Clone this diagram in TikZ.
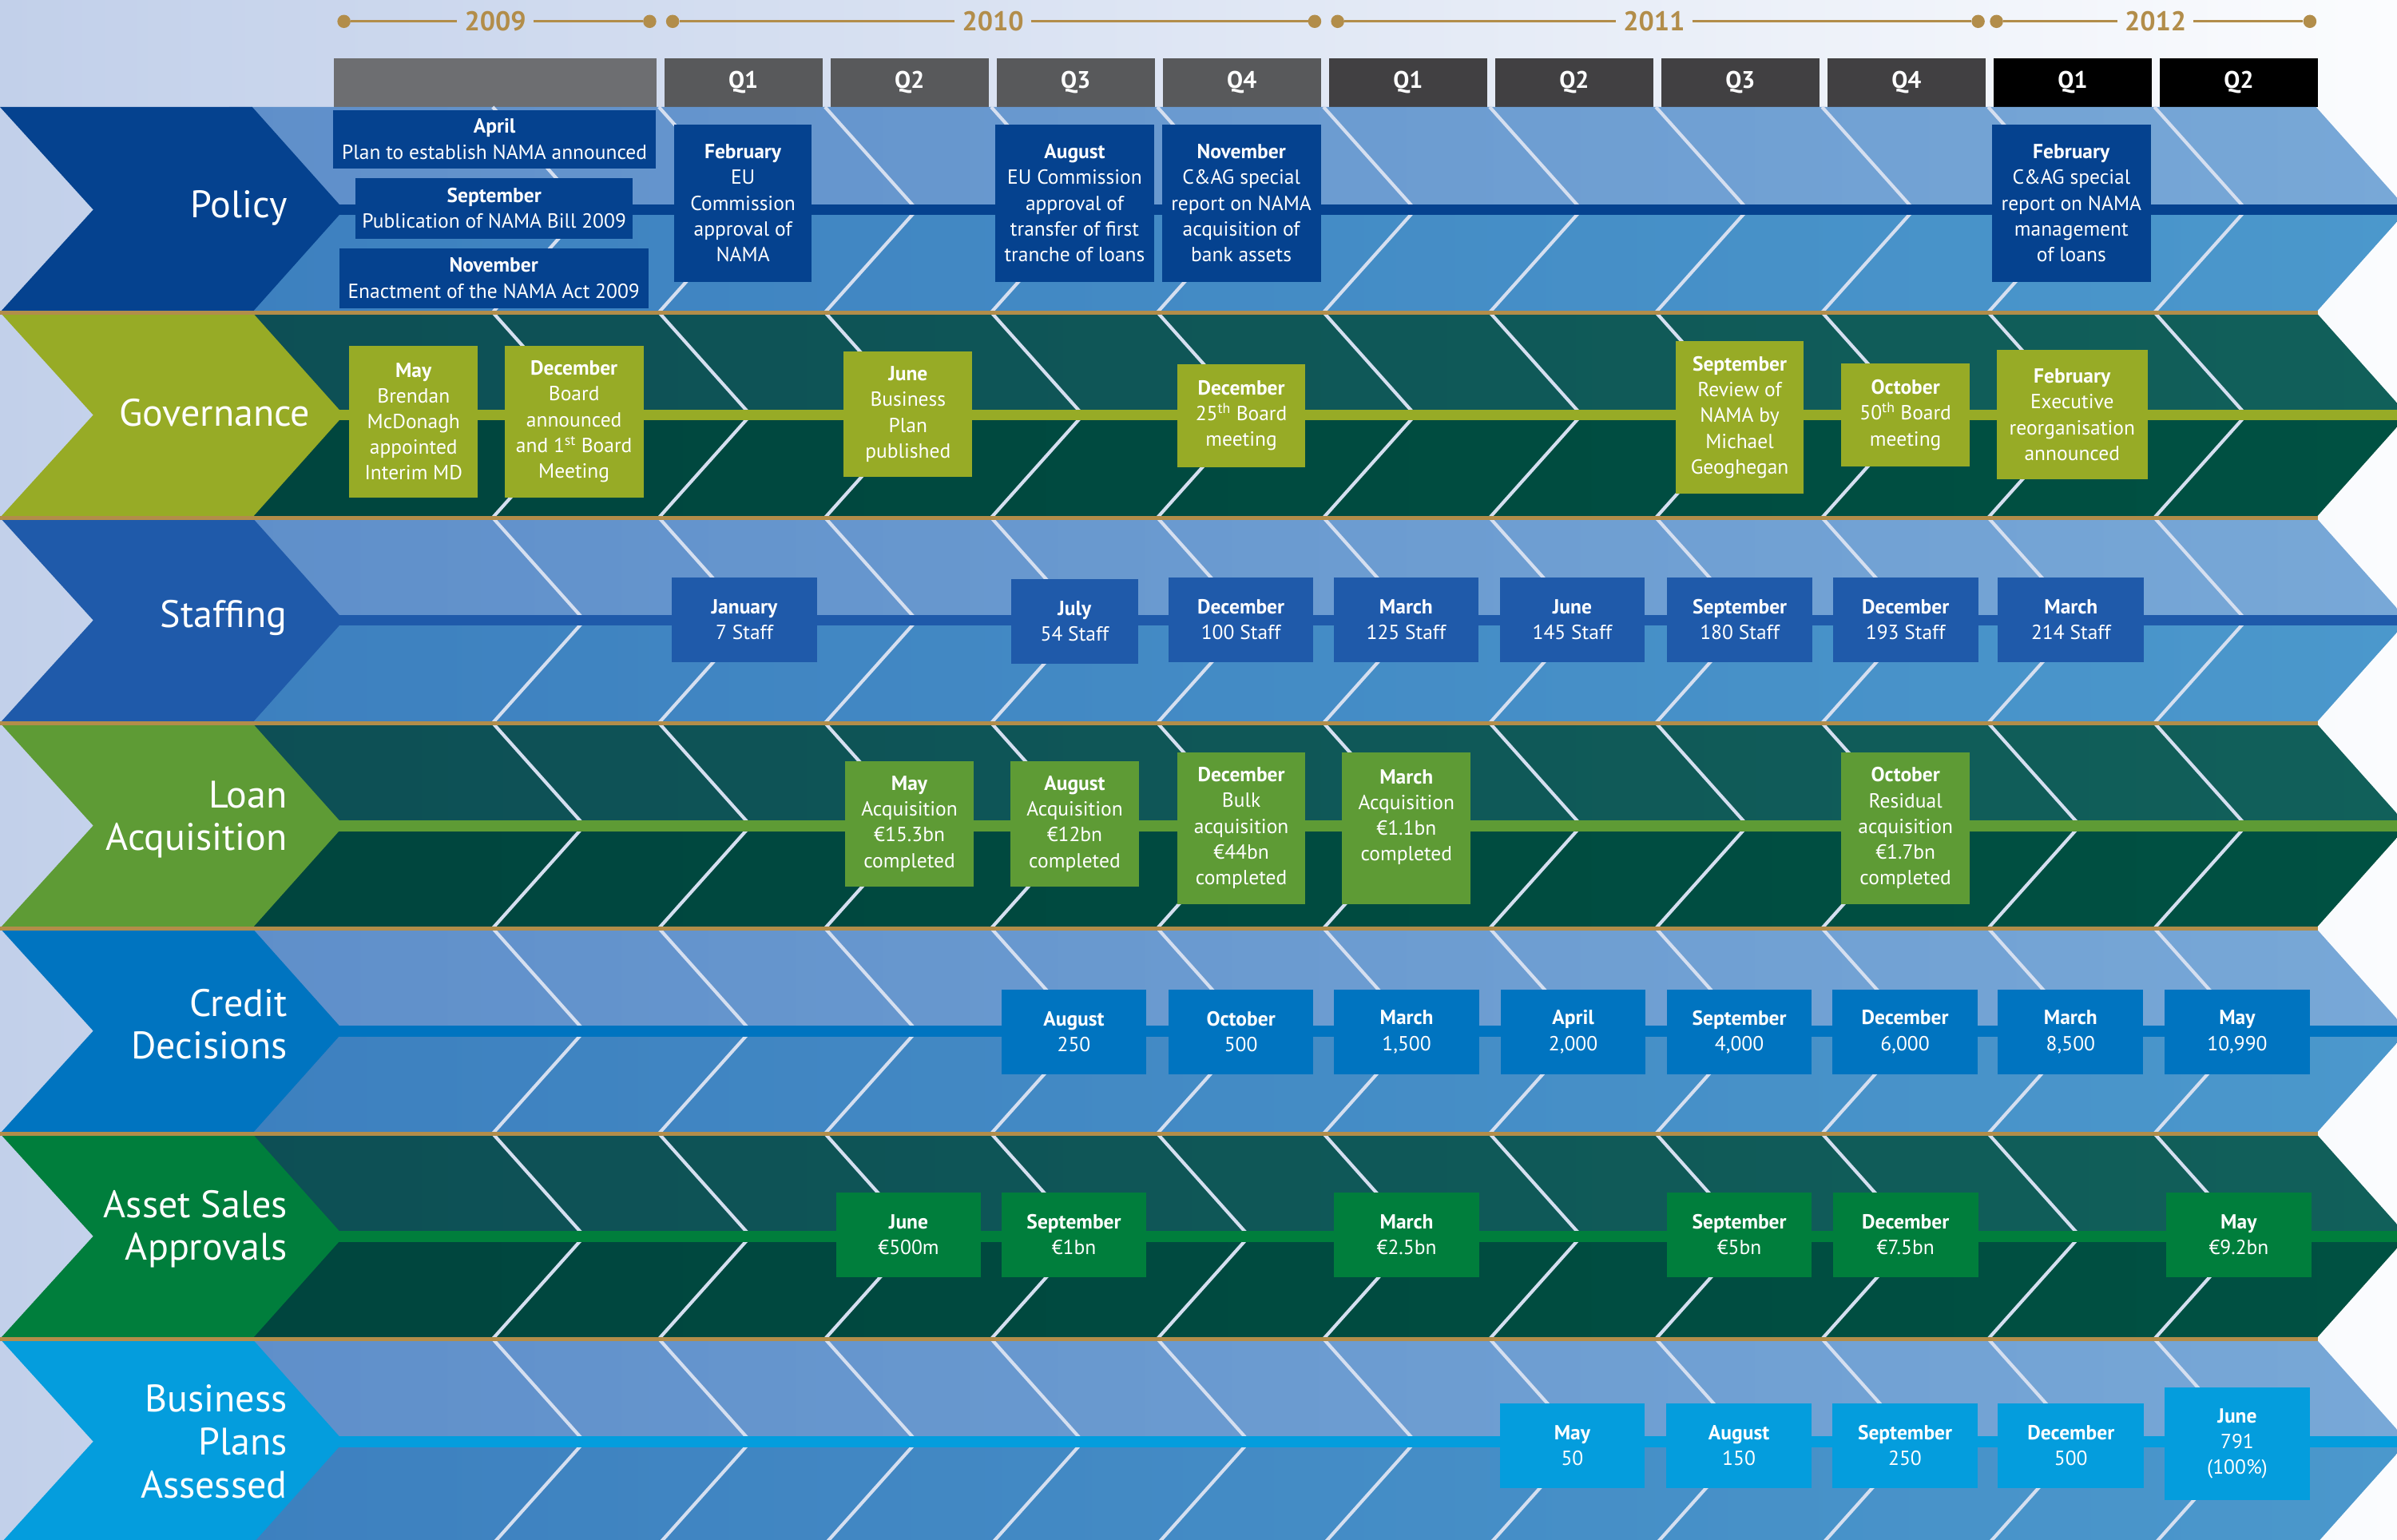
\documentclass[tikz,border=0pt]{standalone}
\usepackage{fontspec}
\setmainfont{PT Sans}
\definecolor{bgL}{HTML}{C2D0EA}
\definecolor{bgR}{HTML}{FBFCFE}
\definecolor{gold}{HTML}{B28D4A}
\definecolor{divc}{HTML}{D5DFF0}
\definecolor{upBL}{HTML}{5F8FCA}
\definecolor{upBR}{HTML}{78A8D7}
\definecolor{loBL}{HTML}{3D80BF}
\definecolor{loBR}{HTML}{4B98CC}
\definecolor{upGL}{HTML}{0D4F55}
\definecolor{upGR}{HTML}{11605A}
\definecolor{loGL}{HTML}{00453E}
\definecolor{loGR}{HTML}{005142}
\definecolor{cPol}{HTML}{05428F}
\definecolor{cGov}{HTML}{97AB26}
\definecolor{cSta}{HTML}{1F5AAA}
\definecolor{cLoa}{HTML}{5E9B35}
\definecolor{cCre}{HTML}{0074C0}
\definecolor{cAss}{HTML}{007E3C}
\definecolor{cBus}{HTML}{049DDD}
\definecolor{q09}{HTML}{6D6E71}
\definecolor{q10}{HTML}{58595B}
\definecolor{q11}{HTML}{414042}
\definecolor{q12}{HTML}{000000}
\tikzset{
  evbox/.style={inner sep=0pt, text=white, align=center, font=\fontsize{25.5}{32.2}\selectfont},
  qbox/.style={inner sep=0pt, text=white, font=\bfseries\fontsize{30}{31}\selectfont, minimum height=61.2pt, minimum width=198pt},
  yeartxt/.style={inner sep=9pt, text=gold, font=\bfseries\fontsize{34}{35}\selectfont},
  ydot/.style={circle, fill=gold, inner sep=0pt, minimum size=16.5pt},
  yline/.style={draw=gold, line width=3.3pt},
  divline/.style={draw=divc, line width=4.2pt},
  rowlab/.style={inner sep=0pt, text=white, align=right, anchor=east, font=\fontsize{48}{53.6}\selectfont},
}
\newcommand\myev[7]{\node[evbox, fill=#6, minimum width={(#4-#2)*1.9139pt}, minimum height={(#5-#3)*1.9139pt}] (#1) at ({(#2+#4)/2},{(#3+#5)/2}) {#7};}
\begin{document}
\begin{tikzpicture}[x=1.9139pt, y=-1.9139pt]
\useasboundingbox (0,0) rectangle (1568,1007);
\clip (0,0) rectangle (1568,1007);
\shade[left color=bgL, right color=bgR] (0,0) rectangle (1568,1007);

% quarter headers
\node[qbox, fill=q09, minimum width=403.8pt] (h0) at (323.75,54) {};
\node[qbox, fill=q10] (h1) at (486.25,54) {Q1};
\node[qbox, fill=q10] (h2) at (595,54) {Q2};
\node[qbox, fill=q10] (h3) at (703.65,54) {Q3};
\node[qbox, fill=q10] (h4) at (812.35,54) {Q4};
\node[qbox, fill=q11] (h5) at (921.05,54) {Q1};
\node[qbox, fill=q11] (h6) at (1029.75,54) {Q2};
\node[qbox, fill=q11] (h7) at (1138.45,54) {Q3};
\node[qbox, fill=q11] (h8) at (1247.15,54) {Q4};
\node[qbox, fill=q12] (h9) at (1355.85,54) {Q1};
\node[qbox, fill=q12] (h10) at (1464.55,54) {Q2};

% year line
\node[ydot] (d1) at (225,14) {};
\node[ydot] (d2) at (425,14) {};
\node[ydot] (d3) at (440,14) {};
\node[ydot] (d4) at (860,14) {};
\node[ydot] (d5) at (875,14) {};
\node[ydot] (d6) at (1294,14) {};
\node[ydot] (d7) at (1306,14) {};
\node[ydot] (d8) at (1511,14) {};
\node[yeartxt] (y1) at (324,14) {2009};
\node[yeartxt] (y2) at (649.5,14) {2010};
\node[yeartxt] (y3) at (1082,14) {2011};
\node[yeartxt] (y4) at (1410,14) {2012};
\draw[yline] (d1) -- (y1); \draw[yline] (y1) -- (d2);
\draw[yline] (d3) -- (y2); \draw[yline] (y2) -- (d4);
\draw[yline] (d5) -- (y3); \draw[yline] (y3) -- (d6);
\draw[yline] (d7) -- (y4); \draw[yline] (y4) -- (d8);

% rows
\foreach \i/\lc/\kind in {0/cPol/B,1/cGov/G,2/cSta/B,3/cLoa/G,4/cCre/B,5/cAss/G,6/cBus/B}{
  \pgfmathsetmacro\rt{70+134.3*\i}
  \pgfmathsetmacro\rc{\rt+67.15}
  \pgfmathsetmacro\rb{\rt+134.3}
  \shade[left color=up\kind L, right color=up\kind R] (150,\rt) -- (1515,\rt) -- (1575,\rc) -- (150,\rc) -- cycle;
  \shade[left color=lo\kind L, right color=lo\kind R] (150,\rc) -- (1575,\rc) -- (1515,\rb) -- (150,\rb) -- cycle;
  \foreach \k in {0,...,10}{
    \pgfmathsetmacro\xx{322.3+108.7*\k}
    \draw[divline] (\xx,\rt) -- ({\xx+60},\rc) -- (\xx,\rb);
  }
  \fill[\lc] (200,{\rc-3.6}) rectangle (1575,{\rc+3.6});
  \fill[\lc] (0,\rt) -- (165,\rt) -- (225,\rc) -- (165,\rb) -- (0,\rb) -- (61,\rc) -- cycle;
}
\foreach \i in {1,...,6}{
  \pgfmathsetmacro\gy{70+134.3*\i}
  \fill[gold] (0,{\gy-1.3}) rectangle (1516,{\gy+1.3});
}

% row labels
\node[rowlab] (lPol) at (188,136) {Policy};
\node[rowlab] (lGov) at (203,270) {Governance};
\node[rowlab] (lSta) at (188,404) {Staffing};
\node[rowlab] (lLoa) at (188,536) {Loan\\Acquisition};
\node[rowlab] (lCre) at (188,670) {Credit\\Decisions};
\node[rowlab] (lAss) at (188,804) {Asset Sales\\Approvals};
\node[rowlab] (lBus) at (188,943) {Business\\Plans\\Assessed};

% policy
\myev{p1}{218}{72}{429}{110}{cPol}{\textbf{April}\\Plan to establish NAMA announced}
\myev{p2}{232.5}{116.3}{414}{156.2}{cPol}{\textbf{September}\\Publication of NAMA Bill 2009}
\myev{p3}{222}{162.3}{424}{201.6}{cPol}{\textbf{November}\\Enactment of the NAMA Act 2009}
\myev{p4}{441}{81.5}{531}{184.3}{cPol}{\textbf{February}\\EU\\Commission\\approval of\\NAMA}
\myev{p5}{651}{81.5}{755}{184.3}{cPol}{\textbf{August}\\EU Commission\\approval of\\transfer of first\\tranche of loans}
\myev{p6}{760}{81.5}{864}{184.3}{cPol}{\textbf{November}\\C\&AG special\\report on NAMA\\acquisition of\\bank assets}
\myev{p7}{1303}{81.5}{1407}{184.3}{cPol}{\textbf{February}\\C\&AG special\\report on NAMA\\management\\of loans}

% governance
\myev{g1}{228.5}{226}{312.6}{325.4}{cGov}{\textbf{May}\\Brendan\\McDonagh\\appointed\\Interim MD}
\myev{g2}{330}{226}{421}{325.4}{cGov}{\textbf{December}\\Board\\announced\\and 1\textsuperscript{st} Board\\Meeting}
\myev{g3}{552}{230}{636}{312}{cGov}{\textbf{June}\\Business\\Plan\\published}
\myev{g4}{770}{238}{854}{305.6}{cGov}{\textbf{December}\\25\textsuperscript{th} Board\\meeting}
\myev{g5}{1096}{223}{1180}{323}{cGov}{\textbf{September}\\Review of\\NAMA by\\Michael\\Geoghegan}
\myev{g6}{1204.5}{237.8}{1288.5}{305}{cGov}{\textbf{October}\\50\textsuperscript{th} Board\\meeting}
\myev{g7}{1306}{229}{1405}{313.5}{cGov}{\textbf{February}\\Executive\\reorganisation\\announced}

% staffing
\myev{s1}{439.5}{377.8}{534.5}{433}{cSta}{\textbf{January}\\7 Staff}
\myev{s2}{661.5}{378.8}{744.5}{434}{cSta}{\textbf{July}\\54 Staff}
\myev{s3}{764.5}{377.8}{859}{433}{cSta}{\textbf{December}\\100 Staff}
\myev{s4}{872.6}{377.8}{967}{433}{cSta}{\textbf{March}\\125 Staff}
\myev{s5}{981}{377.8}{1076}{433}{cSta}{\textbf{June}\\145 Staff}
\myev{s6}{1090.5}{377.8}{1185.6}{433}{cSta}{\textbf{September}\\180 Staff}
\myev{s7}{1199}{377.8}{1294}{433}{cSta}{\textbf{December}\\193 Staff}
\myev{s8}{1307}{377.8}{1402.5}{433}{cSta}{\textbf{March}\\214 Staff}

% loan acquisition
\myev{l1}{552.8}{498}{637}{579.8}{cLoa}{\textbf{May}\\Acquisition\\€15.3bn\\completed}
\myev{l2}{661}{498}{745}{579.8}{cLoa}{\textbf{August}\\Acquisition\\€12bn\\completed}
\myev{l3}{770}{492}{854}{591.3}{cLoa}{\textbf{December}\\Bulk\\acquisition\\€44bn\\completed}
\myev{l4}{878}{492}{962}{591.3}{cLoa}{\textbf{March}\\Acquisition\\€1.1bn\\completed\\\mbox{}}
\myev{l5}{1204.5}{492}{1288.5}{591.3}{cLoa}{\textbf{October}\\Residual\\acquisition\\€1.7bn\\completed}

% credit decisions
\myev{c1}{655}{647.4}{750}{702.6}{cCre}{\textbf{August}\\250}
\myev{c2}{764.5}{647.4}{859}{702.6}{cCre}{\textbf{October}\\500}
\myev{c3}{872.6}{647.4}{967.7}{702.6}{cCre}{\textbf{March}\\1,500}
\myev{c4}{981.8}{647.4}{1076.4}{702.6}{cCre}{\textbf{April}\\2,000}
\myev{c5}{1090.5}{647.4}{1185}{702.6}{cCre}{\textbf{September}\\4,000}
\myev{c6}{1198.6}{647.4}{1293.7}{702.6}{cCre}{\textbf{December}\\6,000}
\myev{c7}{1307}{647.4}{1402}{702.6}{cCre}{\textbf{March}\\8,500}
\myev{c8}{1416}{647.4}{1511}{702.6}{cCre}{\textbf{May}\\10,990}

% asset sales
\myev{a1}{547}{780}{641.7}{835.3}{cAss}{\textbf{June}\\€500m}
\myev{a2}{655}{780}{750}{835.3}{cAss}{\textbf{September}\\€1bn}
\myev{a3}{872.6}{780}{967.7}{835.3}{cAss}{\textbf{March}\\€2.5bn}
\myev{a4}{1090.5}{780}{1185}{835.3}{cAss}{\textbf{September}\\€5bn}
\myev{a5}{1199}{780}{1294}{835.3}{cAss}{\textbf{December}\\€7.5bn}
\myev{a6}{1417}{780}{1512}{835.3}{cAss}{\textbf{May}\\€9.2bn}

% business plans
\myev{b1}{981}{918}{1076}{973.3}{cBus}{\textbf{May}\\50}
\myev{b2}{1090}{918}{1185}{973.3}{cBus}{\textbf{August}\\150}
\myev{b3}{1198.6}{918}{1293.7}{973.3}{cBus}{\textbf{September}\\250}
\myev{b4}{1307}{918}{1402.4}{973.3}{cBus}{\textbf{December}\\500}
\myev{b5}{1416}{907.6}{1511}{981}{cBus}{\textbf{June}\\791\\(100\%)}
\end{tikzpicture}
\end{document}
